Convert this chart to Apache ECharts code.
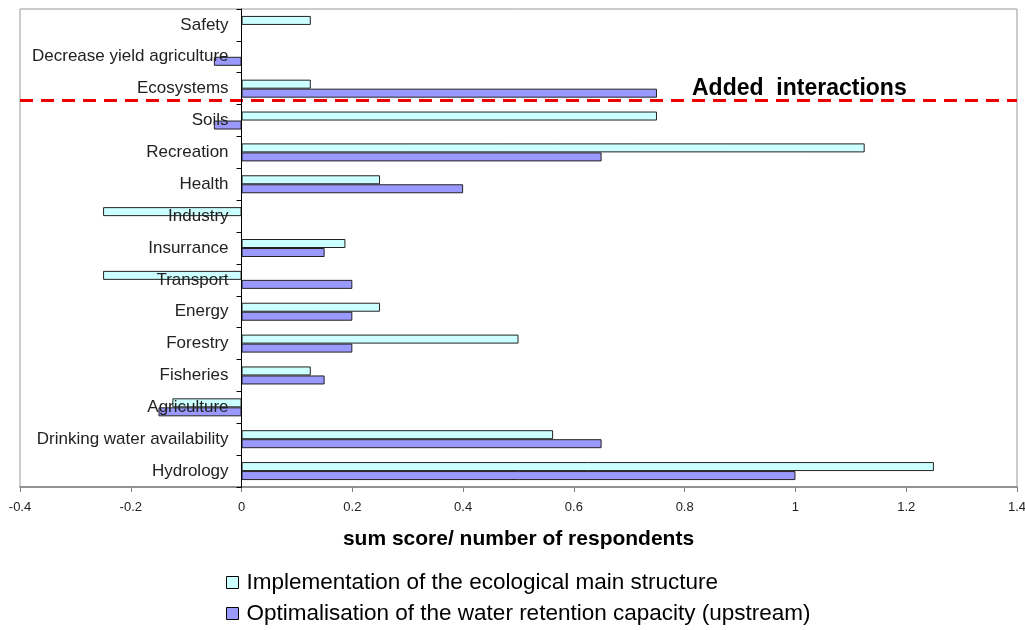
<!DOCTYPE html>
<html>
<head>
<meta charset="utf-8">
<script src="https://cdn.jsdelivr.net/npm/echarts@6/dist/echarts.min.js"></script>
<style>html,body{margin:0;padding:0;background:#fff}#c{width:1025px;height:630px}</style>
</head>
<body>
<div id="c"></div>
<script>
// categories, top to bottom
const categories = ['Safety','Decrease yield agriculture','Ecosystems','Soils','Recreation','Health','Industry','Insurrance','Transport','Energy','Forestry','Fisheries','Agriculture','Drinking water availability','Hydrology'];
const implementation = [0.125, null, 0.125, 0.75, 1.125, 0.25, -0.25, 0.1875, -0.25, 0.25, 0.5, 0.125, -0.125, 0.5625, 1.25];
const optimalisation = [null, -0.05, 0.75, -0.05, 0.65, 0.4, null, 0.15, 0.2, 0.2, 0.2, 0.15, -0.15, 0.65, 1.0];
const seriesNames = ['Implementation of the ecological main structure','Optimalisation of the water retention capacity (upstream)'];
const xTicks = {min: -0.4, max: 1.4, interval: 0.2};
const dividerPosition = [2.86]; // on a hidden 0..15 category-slot scale
const annotation = 'Added  interactions';

const font = 'Liberation Sans, Arial, sans-serif';
const gridLeft = 20;
const chart = echarts.init(document.getElementById('c'), null, {renderer: 'canvas'});
const option = {
  animation: false,
  backgroundColor: '#fff',
  grid: {left: gridLeft, right: 8, top: 9, bottom: 143, containLabel: false, outerBoundsMode: 'none',
         show: true, borderColor: '#999', borderWidth: 1, backgroundColor: 'transparent'},
  xAxis: {
    type: 'value', min: xTicks.min, max: xTicks.max, interval: xTicks.interval,
    name: 'sum score/ number of respondents', nameLocation: 'middle', nameGap: 42,
    nameTextStyle: {fontFamily: font, fontWeight: 'bold', fontSize: 21, color: '#000'},
    axisLine: {show: true, onZero: false, lineStyle: {color: '#808080', width: 1.5}},
    axisTick: {show: true, length: 5, lineStyle: {color: '#808080'}},
    axisLabel: {fontFamily: font, fontSize: 13, color: '#222', margin: 14},
    splitLine: {show: false}
  },
  yAxis: [{
    type: 'category', data: categories, inverse: true, z: 10, offset: 0,
    axisLine: {show: true, onZero: false, lineStyle: {color: '#000', width: 1}},
    axisTick: {show: true, length: 5, lineStyle: {color: '#000'}},
    axisLabel: {interval: 0, fontFamily: font, fontSize: 17, color: '#222', margin: 13},
    splitLine: {show: false}
  }, {
    type: 'value', min: 0, max: 15, inverse: true, show: false
  }],
  legend: {
    orient: 'vertical', left: 226, top: 571, height: 90, itemWidth: 12, itemHeight: 12, itemGap: 8,
    icon: 'rect', data: seriesNames, padding: 0,
    textStyle: {fontFamily: font, fontSize: 22.5, color: '#000', padding: [0, 0, 0, 3]},
    itemStyle: {borderColor: '#000', borderWidth: 1}
  },
  series: [{
    name: seriesNames[0], type: 'bar', data: implementation, barWidth: 9, barGap: '0%',
    itemStyle: {color: '#CCFFFF', borderColor: '#222', borderWidth: 1}
  }, {
    name: seriesNames[1], type: 'bar', data: optimalisation, barWidth: 9, barGap: '0%',
    itemStyle: {color: '#9999FF', borderColor: '#222', borderWidth: 1}
  }, {
    name: 'divider', type: 'line', xAxisIndex: 0, yAxisIndex: 1, data: [], silent: true,
    markLine: {
      silent: true, symbol: 'none',
      lineStyle: {color: '#EE0000', width: 3, type: [13, 8]},
      label: {show: false},
      data: [{yAxis: dividerPosition[0]}]
    }
  }],
  graphic: [{
    type: 'text', left: 692, top: 77, z: 20,
    style: {text: annotation, fontFamily: font, fontWeight: 'bold', fontSize: 23, fill: '#000'}
  }]
};
chart.setOption(option);
// move the category axis (line, ticks, labels) onto x = 0 using the library's own scale
const zeroX = chart.convertToPixel({xAxisIndex: 0}, 0);
chart.setOption({yAxis: [{offset: -(zeroX - gridLeft)}, {}]});
</script>
</body>
</html>
